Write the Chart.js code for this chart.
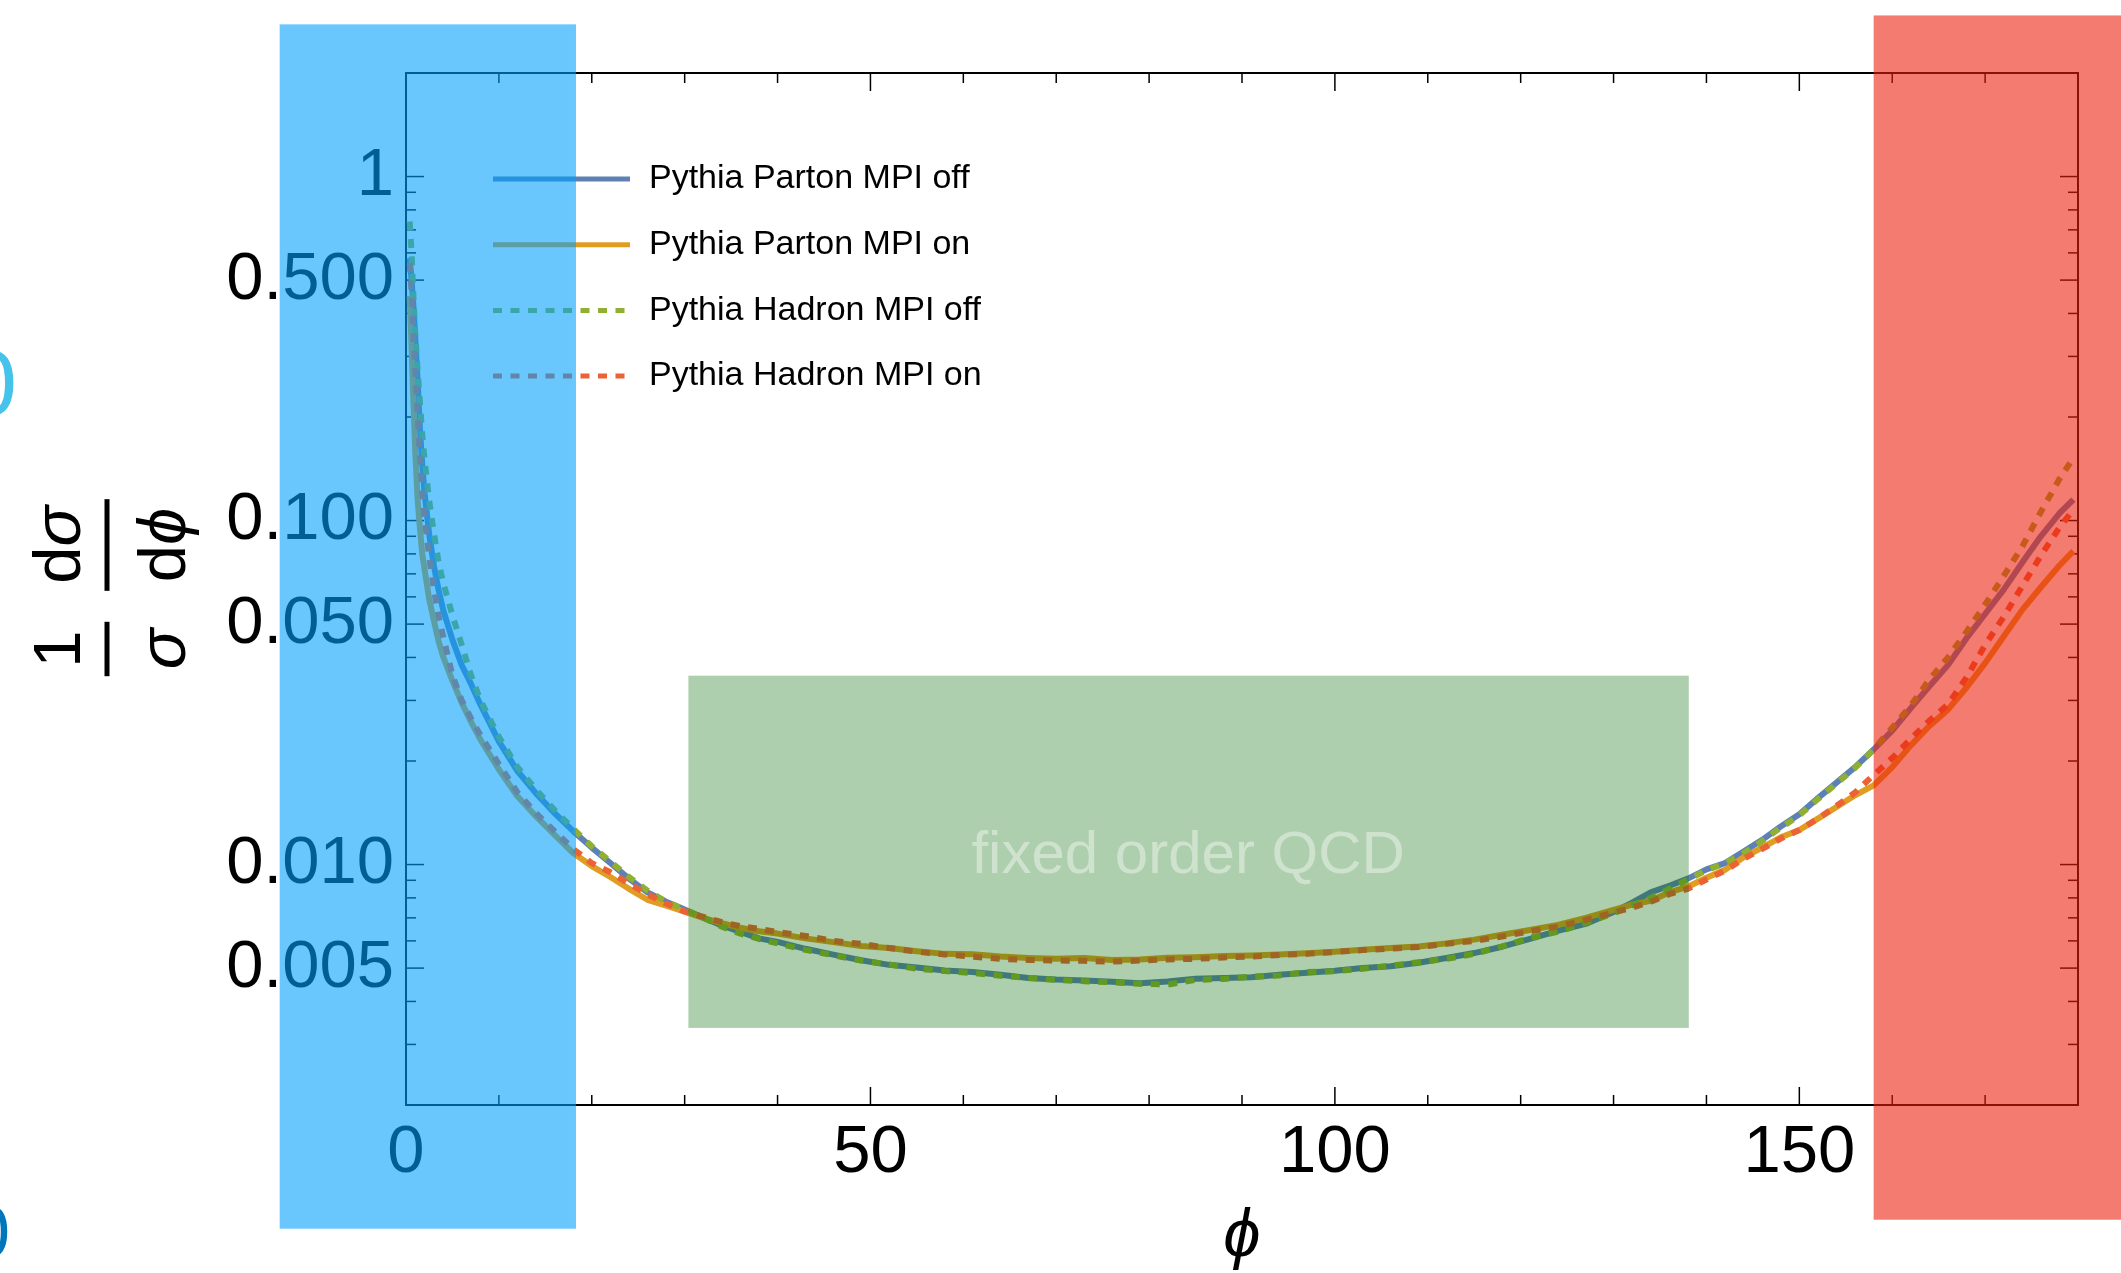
<!DOCTYPE html>
<html lang="en">
<head>
    <meta charset="UTF-8">
    <title>Azimuthal decorrelation</title>
    <script src="https://cdn.jsdelivr.net/npm/chart.js"></script>
    <style>
        html, body { margin: 0; padding: 0; background: #fff; overflow: hidden; }
        #phiChart { display: block; }
    </style>
</head>
<body>
    <canvas id="phiChart" width="2121" height="1273"></canvas>

    <script>
        const FONT = '"Liberation Sans", Arial, Helvetica, sans-serif';

        // bin centres in degrees
        const phi = [0.4, 0.6, 0.8, 1, 1.25, 1.5, 1.75, 2, 2.5, 3, 3.5, 4, 5, 6, 7, 8,
            10, 12, 14, 16, 18, 20, 22, 24, 26, 28, 30, 32, 34, 36, 38, 40,
            43, 46, 49, 52, 55, 58, 61, 64, 67, 70, 73, 76, 79, 82, 85, 88, 91, 94, 97, 100,
            103, 106, 109, 112, 115, 118, 121, 124, 127, 130,
            132, 134, 136, 138, 140, 142, 144, 146, 148, 150, 152, 154, 156, 158, 160,
            162, 164, 166, 168, 170, 172, 174, 176, 178, 179.5];

        const partonMpiOff = [0.58, 0.50, 0.42, 0.34, 0.255, 0.185, 0.145, 0.12, 0.091, 0.074, 0.063, 0.055, 0.045, 0.038, 0.0335, 0.0292,
            0.0228, 0.0187, 0.0161, 0.0141, 0.0125, 0.0112, 0.0101, 0.0091, 0.0083, 0.0078, 0.0074, 0.0070, 0.00665, 0.00637, 0.0061, 0.00596,
            0.00569, 0.00547, 0.00527, 0.00511, 0.00502, 0.00492, 0.00487, 0.00478, 0.00468, 0.00463, 0.0046, 0.00456, 0.00452, 0.00457, 0.00466, 0.00468, 0.0047, 0.00478, 0.00485, 0.00491,
            0.005, 0.00506, 0.00518, 0.00535, 0.00553, 0.00577, 0.00608, 0.00642, 0.00672, 0.00728,
            0.00775, 0.0083, 0.00868, 0.0091, 0.00968, 0.0101, 0.0109, 0.0118, 0.0129, 0.014, 0.0156, 0.0173, 0.0192, 0.0216, 0.0245,
            0.0285, 0.033, 0.038, 0.0455, 0.0535, 0.063, 0.0755, 0.09, 0.105, 0.115];

        const partonMpiOn = [0.45, 0.32, 0.22, 0.158, 0.115, 0.095, 0.08, 0.072, 0.059, 0.0512, 0.0447, 0.0402, 0.0342, 0.0295, 0.026, 0.0231,
            0.0189, 0.0158, 0.0138, 0.0122, 0.0108, 0.0099, 0.0092, 0.0085, 0.0079, 0.0076, 0.0073, 0.007, 0.00675, 0.00655, 0.0064, 0.0063,
            0.0061, 0.00595, 0.0058, 0.00572, 0.0056, 0.0055, 0.00549, 0.0054, 0.00535, 0.00532, 0.00535, 0.00528, 0.0053, 0.00536, 0.00538, 0.00542, 0.00544, 0.00548, 0.00552, 0.00558,
            0.00565, 0.00572, 0.00578, 0.0059, 0.00605, 0.00625, 0.00645, 0.00668, 0.007, 0.00738,
            0.00765, 0.00785, 0.0083, 0.00862, 0.00915, 0.00965, 0.0105, 0.0112, 0.012, 0.0126, 0.0136, 0.0147, 0.0159, 0.017, 0.0192,
            0.0222, 0.0253, 0.0282, 0.0327, 0.0385, 0.046, 0.055, 0.064, 0.074, 0.0815];

        const hadronMpiOff = [0.74, 0.6, 0.45, 0.35, 0.275, 0.22, 0.178, 0.15, 0.114, 0.092, 0.076, 0.066, 0.053, 0.0435, 0.0355, 0.0301,
            0.0235, 0.0192, 0.0165, 0.0144, 0.0127, 0.0113, 0.0102, 0.0092, 0.0084, 0.0078, 0.0074, 0.007, 0.0066, 0.0063, 0.00608, 0.0059,
            0.00565, 0.00545, 0.00526, 0.00512, 0.00498, 0.0049, 0.00484, 0.00475, 0.00468, 0.00462, 0.00458, 0.00455, 0.0045, 0.00448, 0.00462, 0.00465, 0.00472, 0.00476, 0.00487, 0.0049,
            0.00498, 0.00508, 0.0052, 0.00532, 0.0055, 0.00578, 0.00612, 0.00638, 0.00676, 0.00722,
            0.0076, 0.008, 0.0085, 0.00905, 0.00962, 0.0101, 0.0108, 0.0117, 0.0128, 0.0139, 0.0155, 0.0172, 0.0191, 0.0216, 0.025,
            0.029, 0.0345, 0.04, 0.0475, 0.057, 0.069, 0.084, 0.106, 0.132, 0.152];

        const hadronMpiOn = [0.56, 0.46, 0.35, 0.27, 0.205, 0.155, 0.122, 0.102, 0.078, 0.063, 0.053, 0.046, 0.0355, 0.03, 0.0266, 0.0238,
            0.0196, 0.0162, 0.0141, 0.0125, 0.0111, 0.0101, 0.0095, 0.0088, 0.0082, 0.0077, 0.0073, 0.00705, 0.0068, 0.00662, 0.0065, 0.00636,
            0.0062, 0.006, 0.00588, 0.00572, 0.00558, 0.00548, 0.0054, 0.00532, 0.00528, 0.00526, 0.00525, 0.00522, 0.00526, 0.0053, 0.00532, 0.00537, 0.0054, 0.00546, 0.0055, 0.00557,
            0.00564, 0.0057, 0.00576, 0.00588, 0.006, 0.00618, 0.0064, 0.0066, 0.0069, 0.00725,
            0.0075, 0.0078, 0.0082, 0.0085, 0.00905, 0.0096, 0.0104, 0.0111, 0.0119, 0.0126, 0.0136, 0.0148, 0.0162, 0.0182, 0.0204,
            0.0232, 0.0262, 0.0292, 0.035, 0.0435, 0.0525, 0.0645, 0.079, 0.0955, 0.1075];

        const seriesNames = ["Pythia Parton MPI off", "Pythia Parton MPI on", "Pythia Hadron MPI off", "Pythia Hadron MPI on"];
        const xTicks = [0, 50, 100, 150];
        const yTicks = [0.005, 0.01, 0.05, 0.1, 0.5, 1];
        const yTickLabels = ["0.005", "0.010", "0.050", "0.100", "0.500", "1"];

        const seriesValues = [partonMpiOff, partonMpiOn, hadronMpiOff, hadronMpiOn];
        const seriesStyles = [
            { color: "#5E81B5", dash: [] },
            { color: "#E19C24", dash: [] },
            { color: "#8FB032", dash: [9, 8.5] },
            { color: "#EB6235", dash: [9, 8.5] }
        ];

        // translucent bands, given in (phi, value) units
        const bands = [
            { x: [30.4, 138.1], y: [0.00335, 0.0354], fill: "rgba(0, 107, 0, 0.32)" },
            { x: [-13.6, 18.3], y: [0.000874, 2.77], fill: "rgba(0, 160, 253, 0.59)" },
            { x: [158.0, 190], y: [0.000928, 2.94], fill: "rgba(236, 30, 12, 0.59)" }
        ];

        function line(ctx, x0, y0, x1, y1) {
            ctx.beginPath();
            ctx.moveTo(x0, y0);
            ctx.lineTo(x1, y1);
            ctx.stroke();
        }

        function fontSpec(size, italic) {
            return (italic ? "italic " : "") + size + "px " + FONT;
        }

        // draws a run of [text, italic] pieces centred on u
        function drawRun(ctx, parts, u, v, size) {
            const widths = parts.map(([t, it]) => { ctx.font = fontSpec(size, it); return ctx.measureText(t).width; });
            const total = widths.reduce((s, w) => s + w, 0);
            let cur = u - total / 2;
            parts.forEach(([t, it], k) => {
                ctx.font = fontSpec(size, it);
                ctx.fillText(t, cur, v);
                cur += widths[k];
            });
            return total;
        }

        function drawFraction(ctx, num, den, u) {
            const wn = drawRun(ctx, num, u, -27, 67);
            const wd = drawRun(ctx, den, u, 78, 67);
            const half = Math.max(wn, wd) / 2 + 7;
            ctx.lineWidth = 5;
            line(ctx, u - half, 0, u + half, 0);
        }

        const frameTicks = {
            id: "frameTicks",
            beforeDatasetsDraw(chart) {
                const { ctx, chartArea: a, scales: { x, y } } = chart;
                ctx.save();
                ctx.strokeStyle = "#000";
                ctx.lineWidth = 2;
                ctx.strokeRect(a.left, a.top, a.width, a.height);
                ctx.lineWidth = 1.5;
                for (let v = 0; v <= 180; v += 10) {
                    const px = x.getPixelForValue(v);
                    const len = xTicks.includes(v) ? 18 : 10;
                    line(ctx, px, a.bottom, px, a.bottom - len);
                    line(ctx, px, a.top, px, a.top + len);
                }
                for (let e = -3; e <= 0; e++) {
                    for (let m = 1; m <= 9; m++) {
                        const v = m * Math.pow(10, e);
                        if (v < 0.002 * 0.999 || v > 2 * 1.001) continue;
                        const py = y.getPixelForValue(v);
                        const len = yTicks.some(t => Math.abs(t - v) < 1e-9) ? 18 : 10;
                        line(ctx, a.left, py, a.left + len, py);
                        line(ctx, a.right, py, a.right - len, py);
                    }
                }
                ctx.restore();
            }
        };

        const decorations = {
            id: "decorations",
            afterDraw(chart) {
                const { ctx, chartArea: a, scales: { x, y } } = chart;
                ctx.save();

                // legend
                ctx.lineCap = "butt";
                chart.data.datasets.forEach((ds, i) => {
                    const ly = a.top + 106 + i * 65.7;
                    ctx.strokeStyle = ds.borderColor;
                    ctx.lineWidth = 5;
                    ctx.setLineDash(ds.borderDash);
                    line(ctx, a.left + 87, ly, a.left + (ds.borderDash.length ? 219 : 224), ly);
                    ctx.setLineDash([]);
                    ctx.fillStyle = "#000";
                    ctx.font = fontSpec(34, false);
                    ctx.textAlign = "left";
                    ctx.textBaseline = "middle";
                    ctx.fillText(ds.label, a.left + 243, ly);
                });

                // x axis title
                ctx.fillStyle = "#000";
                ctx.textAlign = "center";
                ctx.textBaseline = "alphabetic";
                ctx.font = fontSpec(67, true);
                ctx.fillText("\u03D5", (a.left + a.right) / 2, 1256);

                // y axis title: (1/σ) dσ/dϕ, rotated to read upwards
                ctx.save();
                ctx.translate(107, 0);
                ctx.rotate(-Math.PI / 2);
                ctx.textAlign = "left";
                ctx.strokeStyle = "#000";
                drawFraction(ctx, [["1", false]], [["\u03C3", true]], -649);
                drawFraction(ctx, [["d", false], ["\u03C3", true]], [["d", false], ["\u03D5", true]], -545);
                ctx.restore();

                // translucent bands over everything
                bands.forEach(b => {
                    const x0 = x.getPixelForValue(b.x[0]);
                    const x1 = x.getPixelForValue(b.x[1]);
                    const y0 = y.getPixelForValue(b.y[1]);
                    const y1 = y.getPixelForValue(b.y[0]);
                    ctx.fillStyle = b.fill;
                    ctx.fillRect(x0, y0, x1 - x0, y1 - y0);
                });

                ctx.fillStyle = "rgba(255, 255, 255, 0.4)";
                ctx.font = fontSpec(60, false);
                ctx.textAlign = "center";
                ctx.textBaseline = "alphabetic";
                ctx.fillText("fixed order QCD", x.getPixelForValue(84.2), y.getPixelForValue(0.00943));

                // clipped glyphs at the left margin
                ctx.textAlign = "right";
                ctx.fillStyle = "#45C3EA";
                ctx.font = fontSpec(93, false);
                ctx.fillText("0", 17, 415);
                ctx.fillStyle = "#0077BB";
                ctx.font = fontSpec(72, false);
                ctx.fillText("0", 10, 1257);

                ctx.restore();
            }
        };

        const datasets = seriesValues.map((vals, i) => ({
            label: seriesNames[i],
            data: phi.map((p, k) => ({ x: p, y: vals[k] })),
            borderColor: seriesStyles[i].color,
            borderDash: seriesStyles[i].dash,
            borderWidth: 6,
            borderCapStyle: "butt",
            borderJoinStyle: "round",
            pointRadius: 0,
            tension: 0,
            fill: false,
            order: 4 - i
        }));

        Chart.defaults.font.family = FONT;

        new Chart(document.getElementById("phiChart").getContext("2d"), {
            type: "line",
            data: { datasets: datasets },
            options: {
                responsive: false,
                devicePixelRatio: 1,
                animation: false,
                layout: { padding: { left: 0, right: 43, top: 73, bottom: 0 } },
                plugins: { legend: { display: false }, tooltip: { enabled: false } },
                scales: {
                    x: {
                        type: "linear",
                        min: 0,
                        max: 180,
                        afterBuildTicks: s => { s.ticks = xTicks.map(v => ({ value: v })); },
                        afterFit: s => { s.height = 168; },
                        grid: { display: false, drawTicks: false },
                        border: { display: false },
                        ticks: {
                            color: "#000",
                            font: { size: 67 },
                            padding: 8,
                            maxRotation: 0,
                            autoSkip: false,
                            callback: v => String(v)
                        }
                    },
                    y: {
                        type: "logarithmic",
                        min: 0.002,
                        max: 2,
                        afterBuildTicks: s => { s.ticks = yTicks.map(v => ({ value: v })); },
                        afterFit: s => { s.width = 406; },
                        grid: { display: false, drawTicks: false },
                        border: { display: false },
                        ticks: {
                            color: "#000",
                            font: { size: 67 },
                            padding: 12,
                            autoSkip: false,
                            callback: (v, i) => yTickLabels[i]
                        }
                    }
                }
            },
            plugins: [frameTicks, decorations]
        });
    </script>
</body>
</html>
